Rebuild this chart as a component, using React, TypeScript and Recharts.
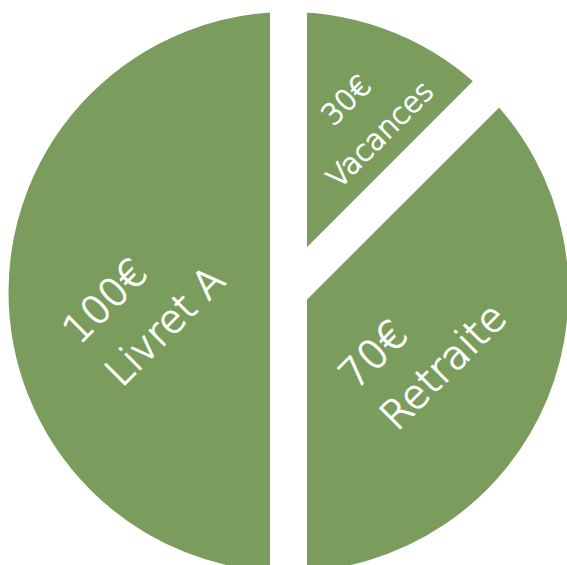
import React from 'react';
import { PieChart, Pie, Cell } from 'recharts';

// slices go clockwise from 12 o'clock
const categories = ['Vacances', 'Retraite', 'Livret A'];
const amounts = ['30€', '70€', '100€'];
// slice sizes (45°, 135°, 180°)
const sliceValues = [25, 75, 100];

const GREEN = '#7a9d5e';
const GAP = 37;
const RADIUS = 280;
const RADIAN = Math.PI / 180;

const data = categories.map((name, i) => ({ name, amount: amounts[i], value: sliceValues[i] }));

// label placement, in a frame turned -45°
const labelLayout: Record<string, { r: number; anchor: 'start' | 'middle'; x: number; y1: number; y2: number; size: number }> = {
  'Vacances': { r: 180, anchor: 'middle', x: 10, y1: -16, y2: 32, size: 29 },
  'Retraite': { r: 150, anchor: 'start', x: -80, y1: -21, y2: 37, size: 40 },
  'Livret A': { r: 150, anchor: 'start', x: -80, y1: -4, y2: 56, size: 39 },
};

const renderLabel = (props: any) => {
  const { cx, cy, midAngle, payload } = props;
  const name = payload.name;
  const l = labelLayout[name];
  const x = cx + l.r * Math.cos(-midAngle * RADIAN);
  const y = cy + l.r * Math.sin(-midAngle * RADIAN);
  const textProps = {
    x: l.x,
    textAnchor: l.anchor,
    fill: '#fff',
    stroke: '#fff',
    strokeWidth: 1.1,
    fontSize: l.size,
    fontFamily: 'DejaVu Sans',
    fontWeight: 300,
  };
  return (
    <g transform={`translate(${x},${y}) rotate(-45)`}>
      <text {...textProps} y={l.y1}>{payload.amount}</text>
      <text {...textProps} y={l.y2}>{name}</text>
    </g>
  );
};

const App: React.FC = () => {
  return (
    <div style={{ position: 'fixed', left: 0, top: 0, width: 567, height: 565, background: '#fff' }}>
      <PieChart width={567} height={565} margin={{ top: 0, right: 0, bottom: 0, left: 0 }}>
        <Pie
          data={data}
          dataKey="value"
          nameKey="name"
          cx={288.5}
          cy={292}
          outerRadius={RADIUS + GAP / 2}
          startAngle={90}
          endAngle={-270}
          stroke="#fff"
          strokeWidth={GAP}
          label={renderLabel}
          labelLine={false}
          isAnimationActive={false}
        >
          {data.map((d) => (
            <Cell key={d.name} fill={GREEN} stroke="#fff" strokeWidth={GAP} />
          ))}
        </Pie>
      </PieChart>
    </div>
  );
};

export default App;
